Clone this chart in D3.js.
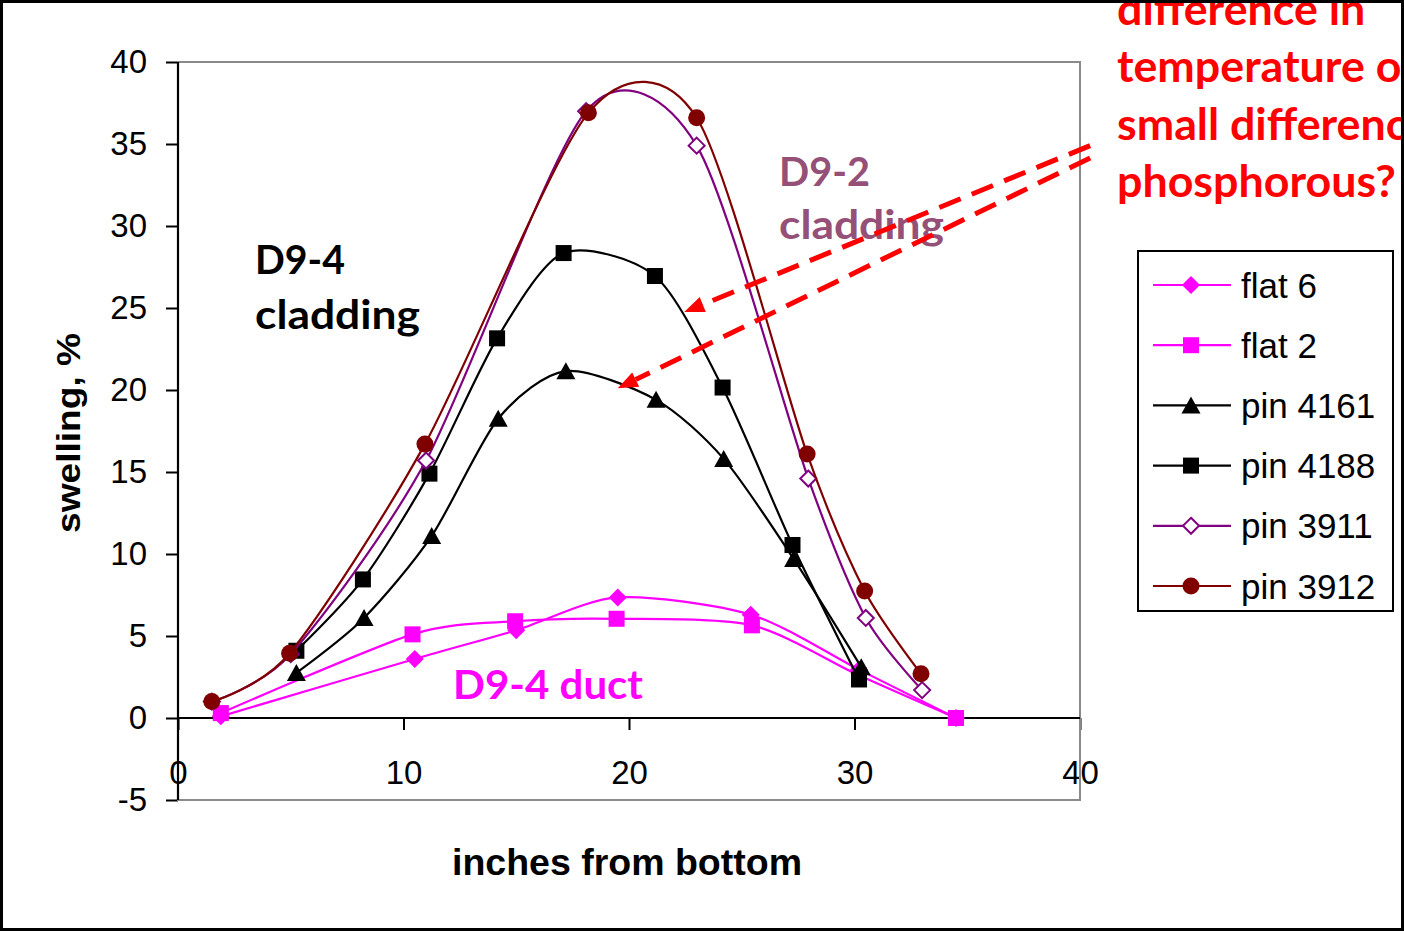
<!DOCTYPE html>
<html>
<head>
<meta charset="utf-8">
<script src="https://cdn.jsdelivr.net/npm/d3@7"></script>
<style>
  body { margin: 0; background: #fff; }
  svg { display: block; }
</style>
</head>
<body>
<svg id="chart" width="1404" height="931"></svg>
<script>
// ---- data: [inches from bottom, swelling %] ----
const xTickValues = [0, 10, 20, 30, 40];
const yTickValues = [-5, 0, 5, 10, 15, 20, 25, 30, 35, 40];

const flat6   = [[1.9, 0.1], [10.5, 3.6], [15.0, 5.35], [19.5, 7.35], [25.4, 6.3], [30.2, 2.95], [34.5, 0.0]];
const flat2   = [[1.9, 0.3], [10.4, 5.1], [14.95, 5.9], [19.45, 6.05], [25.45, 5.65], [30.2, 2.6], [34.5, 0.0]];
const pin4161 = [[5.25, 2.75], [8.25, 6.1], [11.25, 11.1], [14.2, 18.25], [17.2, 21.15], [21.2, 19.4], [24.2, 15.8], [27.3, 9.7], [30.3, 3.1]];
const pin4188 = [[5.25, 4.1], [8.2, 8.45], [11.15, 14.9], [14.15, 23.15], [17.1, 28.35], [21.15, 26.95], [24.15, 20.15], [27.25, 10.55], [30.2, 2.35]];
const pin3911 = [[1.5, 1.0], [5.0, 3.9], [11.0, 15.7], [18.1, 37.0], [23.0, 34.9], [27.95, 14.6], [30.5, 6.1], [33.0, 1.7]];
const pin3912 = [[1.5, 1.0], [4.95, 3.95], [10.95, 16.7], [18.2, 36.9], [23.0, 36.6], [27.9, 16.1], [30.45, 7.75], [32.95, 2.7]];

const seriesNames = ["flat 6", "flat 2", "pin 4161", "pin 4188", "pin 3911", "pin 3912"];

// annotation arrows, in data units: [start, tip]
const arrowUpper = [[40.45, 34.9], [22.45, 24.75]];
const arrowLower = [[40.45, 34.15], [19.5, 20.1]];

const noteLines = ["difference in", "temperature or", "small difference in", "phosphorous?"];

// ---- styling per series ----
const styles = {
  "flat 6":   { color: "#FF00FF", marker: "diamond" },
  "flat 2":   { color: "#FF00FF", marker: "square" },
  "pin 4161": { color: "#000000", marker: "triangle" },
  "pin 4188": { color: "#000000", marker: "square" },
  "pin 3911": { color: "#800080", marker: "openDiamond" },
  "pin 3912": { color: "#800000", marker: "circle" }
};
const seriesData = { "flat 6": flat6, "flat 2": flat2, "pin 4161": pin4161, "pin 4188": pin4188, "pin 3911": pin3911, "pin 3912": pin3912 };

const svg = d3.select("#chart");
const W = 1404, H = 931;
const plot = { left: 178, right: 1080, top: 62, bottom: 800 };

const x = d3.scaleLinear().domain([0, 40]).range([plot.left, plot.right]);
const y = d3.scaleLinear().domain([-5, 40]).range([plot.bottom, plot.top]);

const tickFont = "'Liberation Sans', Arial, sans-serif";
const calloutFont = "Lato, 'Noto Sans', sans-serif";

svg.append("rect").attr("width", W).attr("height", H).attr("fill", "#fff");

// ---- axes ----
const plainNum = d => String(d);
const yAxis = d3.axisLeft(y).tickValues(yTickValues).tickFormat(plainNum).tickSize(12).tickPadding(19).tickSizeOuter(0);
const gy = svg.append("g").attr("transform", `translate(${plot.left},0)`).call(yAxis);
gy.select(".domain").remove();
gy.selectAll(".tick line").attr("stroke", "#000").attr("stroke-width", 2);
gy.selectAll(".tick text").attr("font-family", tickFont).attr("font-size", 33).attr("fill", "#000");

const xAxis = d3.axisBottom(x).tickValues(xTickValues).tickFormat(plainNum).tickSize(12).tickPadding(31).tickSizeOuter(0);
const gx = svg.append("g").attr("transform", `translate(0,${y(0)})`).call(xAxis);
gx.select(".domain").remove();
gx.selectAll(".tick line").attr("stroke", "#000").attr("stroke-width", 2);
gx.selectAll(".tick text").attr("font-family", tickFont).attr("font-size", 33).attr("fill", "#000");

// plot frame (grey), drawn over the tick labels it crosses
svg.append("rect")
  .attr("x", plot.left).attr("y", plot.top)
  .attr("width", plot.right - plot.left).attr("height", plot.bottom - plot.top)
  .attr("fill", "none").attr("stroke", "#8a8a8a").attr("stroke-width", 2);

// axis lines
svg.append("line").attr("x1", x(0)).attr("x2", x(0)).attr("y1", plot.top).attr("y2", plot.bottom)
  .attr("stroke", "#000").attr("stroke-width", 2.2);
svg.append("line").attr("x1", plot.left).attr("x2", plot.right).attr("y1", y(0)).attr("y2", y(0))
  .attr("stroke", "#000").attr("stroke-width", 2.2);

// ---- axis titles ----
svg.append("text")
  .attr("x", 452).attr("y", 875)
  .attr("font-family", tickFont).attr("font-weight", "bold").attr("font-size", 36)
  .attr("textLength", 350).attr("lengthAdjust", "spacingAndGlyphs")
  .text("inches from bottom");

svg.append("text")
  .attr("transform", "translate(80,433) rotate(-90)")
  .attr("text-anchor", "middle")
  .attr("font-family", tickFont).attr("font-weight", "bold").attr("font-size", 33)
  .attr("textLength", 200).attr("lengthAdjust", "spacingAndGlyphs")
  .text("swelling, %");

// ---- marker shapes ----
function drawMarker(g, kind, color, cx, cy) {
  switch (kind) {
    case "diamond":
      g.append("path").attr("d", `M${cx},${cy - 9}L${cx + 9},${cy}L${cx},${cy + 9}L${cx - 9},${cy}Z`).attr("fill", color);
      break;
    case "openDiamond":
      g.append("path").attr("d", `M${cx},${cy - 8}L${cx + 8},${cy}L${cx},${cy + 8}L${cx - 8},${cy}Z`)
        .attr("fill", "#fff").attr("stroke", color).attr("stroke-width", 2);
      break;
    case "square":
      g.append("rect").attr("x", cx - 8).attr("y", cy - 8).attr("width", 16).attr("height", 16).attr("fill", color);
      break;
    case "triangle":
      g.append("path").attr("d", `M${cx},${cy - 9}L${cx + 9.5},${cy + 8}L${cx - 9.5},${cy + 8}Z`).attr("fill", color);
      break;
    case "circle":
      g.append("circle").attr("cx", cx).attr("cy", cy).attr("r", 8.5).attr("fill", color);
      break;
  }
}

// ---- series (smoothed lines with markers) ----
const line = d3.line().x(d => x(d[0])).y(d => y(d[1])).curve(d3.curveCardinal.tension(0.2));

seriesNames.forEach(name => {
  const st = styles[name];
  const data = seriesData[name];
  const g = svg.append("g").attr("class", "series");
  g.append("path").datum(data).attr("d", line)
    .attr("fill", "none").attr("stroke", st.color).attr("stroke-width", 2.2).attr("stroke-linejoin", "round");
  data.forEach(d => drawMarker(g, st.marker, st.color, x(d[0]), y(d[1])));
});

// ---- callout labels ----
function callout(lines, x0, baselines, lengths, color, size) {
  lines.forEach((t, i) => {
    svg.append("text")
      .attr("x", x0).attr("y", baselines[i])
      .attr("font-family", calloutFont).attr("font-weight", "bold").attr("font-size", size)
      .attr("fill", color)
      .attr("textLength", lengths[i]).attr("lengthAdjust", "spacingAndGlyphs")
      .text(t);
  });
}
callout(["D9-4", "cladding"], 255, [274, 329], [90, 165], "#000000", 40);
callout(["D9-2", "cladding"], 779, [186, 239], [91, 165], "#955078", 40);
callout(["D9-4 duct"], 453, [699], [190], "#FF00FF", 40);

// ---- dashed arrows ----
function arrow(pts) {
  const [s, t] = pts.map(p => [x(p[0]), y(p[1])]);
  const ang = Math.atan2(t[1] - s[1], t[0] - s[0]);
  const headLen = 20, headHalf = 8;
  const bx = t[0] - headLen * Math.cos(ang), by = t[1] - headLen * Math.sin(ang);
  svg.append("line").attr("x1", s[0]).attr("y1", s[1]).attr("x2", bx).attr("y2", by)
    .attr("stroke", "#FF0000").attr("stroke-width", 5).attr("stroke-dasharray", "23 12");
  const px = -Math.sin(ang) * headHalf, py = Math.cos(ang) * headHalf;
  svg.append("path")
    .attr("d", `M${t[0]},${t[1]}L${bx + px},${by + py}L${bx - px},${by - py}Z`)
    .attr("fill", "#FF0000");
}
arrow(arrowUpper);
arrow(arrowLower);

// ---- red note (runs off the right edge of the frame) ----
const note = svg.append("g");
const noteText = note.selectAll("text").data(noteLines).join("text")
  .attr("x", 0).attr("y", (d, i) => 25 + i * 57.5)
  .attr("font-family", calloutFont).attr("font-weight", "bold").attr("font-size", 43)
  .attr("fill", "#FF0000")
  .text(d => d);
const lastW = noteText.filter((d, i) => i === noteLines.length - 1).node().getComputedTextLength();
const sx = 279 / lastW;
note.attr("transform", `translate(1117,0) scale(${sx},1)`);

// ---- legend ----
const leg = svg.append("g");
leg.append("rect").attr("x", 1138).attr("y", 251).attr("width", 255).attr("height", 360)
  .attr("fill", "#fff").attr("stroke", "#000").attr("stroke-width", 2);
seriesNames.forEach((name, i) => {
  const st = styles[name];
  const cy = 285 + i * 60.2;
  leg.append("line").attr("x1", 1153).attr("x2", 1231).attr("y1", cy).attr("y2", cy)
    .attr("stroke", st.color).attr("stroke-width", 2.2);
  drawMarker(leg, st.marker, st.color, 1191, cy);
  leg.append("text").attr("x", 1241).attr("y", cy + 12.5)
    .attr("font-family", tickFont).attr("font-size", 35).attr("fill", "#000")
    .text(name);
});

// ---- outer frame ----
svg.append("rect").attr("x", 1.5).attr("y", 1.5).attr("width", W - 3).attr("height", H - 3)
  .attr("fill", "none").attr("stroke", "#000").attr("stroke-width", 3);
</script>
</body>
</html>
